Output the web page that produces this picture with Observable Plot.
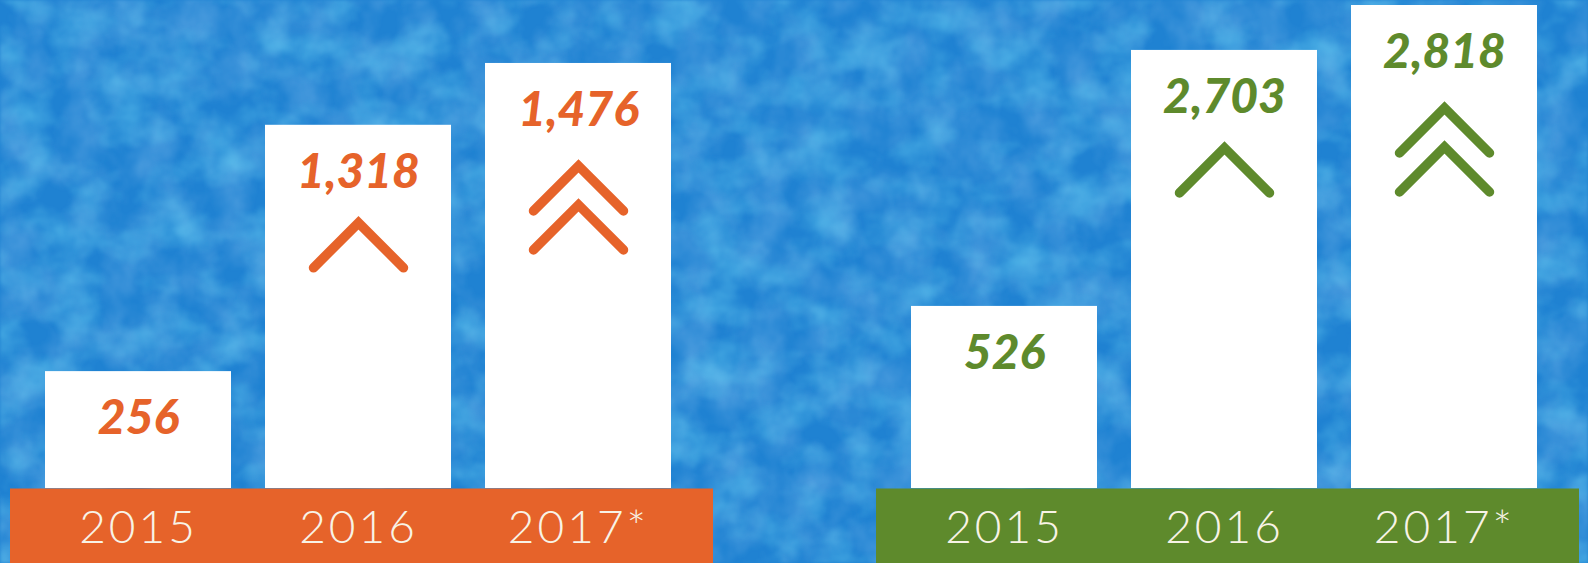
<!DOCTYPE html>
<html>
<head>
<meta charset="utf-8">
<script src="https://cdn.jsdelivr.net/npm/d3@7"></script>
<script src="https://cdn.jsdelivr.net/npm/@observablehq/plot@0.6"></script>
<style>
  html, body { margin: 0; padding: 0; background: #1f82d2; }
  #wrap { position: relative; width: 1588px; height: 563px; overflow: hidden; }
  #bg { position: absolute; left: 0; top: 0; }
  #chart { position: absolute; left: 0; top: 0; }
</style>
</head>
<body>
<div id="wrap">
  <svg id="bg" width="1588" height="563">
    <filter id="light" x="0" y="0" width="100%" height="100%">
      <feTurbulence type="fractalNoise" baseFrequency="0.02 0.028" numOctaves="4" seed="7"/>
      <feColorMatrix type="matrix" values="0 0 0 0 0.15  0 0 0 0 0.64  0 0 0 0 0.90  0 0 0 1.1 -0.45"/>
      <feGaussianBlur stdDeviation="1.5"/>
    </filter>
    <filter id="dark" x="0" y="0" width="100%" height="100%">
      <feTurbulence type="fractalNoise" baseFrequency="0.028 0.022" numOctaves="4" seed="21"/>
      <feColorMatrix type="matrix" values="0 0 0 0 0.12  0 0 0 0 0.40  0 0 0 0 0.78  0 0 0 1.2 -0.42"/>
      <feGaussianBlur stdDeviation="1.5"/>
    </filter>
    <rect width="1588" height="563" fill="#1f82d2"/>
    <rect width="1588" height="563" filter="url(#dark)"/>
    <rect width="1588" height="563" filter="url(#light)"/>
  </svg>
  <div id="chart"></div>
</div>
<script>
// ---- data ----
const groups = ["left", "right"];
const years = ["2015", "2016", "2017*"];
const leftValues = [256, 1318, 1476];
const rightValues = [526, 2703, 2818];
// drawn bar heights (infographic is not to scale), % of tallest bar
const leftLevels = [24.2, 75.2, 88.0];
const rightLevels = [37.7, 90.7, 100];
// number of "up" chevrons drawn in each bar
const arrowCounts = [0, 1, 2];
const groupColors = ["#e6632a", "#5e8a2c"];

const rows = [];
years.forEach((y, i) => rows.push({group: "left", year: y, value: leftValues[i], level: leftLevels[i], arrows: arrowCounts[i]}));
years.forEach((y, i) => rows.push({group: "right", year: y, value: rightValues[i], level: rightLevels[i], arrows: arrowCounts[i]}));
const bands = groups.map(g => ({group: g}));

const chevron = {
  draw(context, size) {
    const r = Math.sqrt(size / Math.PI);
    context.moveTo(-r, r / 2);
    context.lineTo(0, -r / 2);
    context.lineTo(r, r / 2);
  }
};

const fmt = d3.format(",");
const chevronStyle = {fx: "group", x: "year", y: "level", symbol: chevron, r: 45, stroke: "group", fill: "none", strokeWidth: 9.5, strokeLinecap: "round", strokeLinejoin: "miter"};

const chart = Plot.plot({
  width: 1588,
  height: 563,
  marginTop: 5,
  marginBottom: 75,
  marginLeft: 10,
  marginRight: 8,
  fx: {domain: groups, axis: null, paddingInner: 0.188, paddingOuter: 0},
  x: {domain: years, axis: null, paddingInner: 0.155, paddingOuter: 0.17, align: 0.46},
  y: {domain: [0, 100], axis: null},
  color: {domain: groups, range: groupColors},
  style: {background: "transparent", overflow: "visible"},
  marks: [
    Plot.ruleY(bands, {fx: "group", y: 0, stroke: "group", strokeWidth: 75, dy: 37.5}),
    Plot.barY(rows, {fx: "group", x: "year", y: "level", fill: "white"}),
    Plot.text(rows, {fx: "group", x: "year", frameAnchor: "bottom", dy: 54, text: "year", fill: "#f8f3e6", fontSize: 46, fontWeight: 300, fontFamily: "Lato"}),
    Plot.text(rows, {fx: "group", x: "year", y: "level", dy: 47, text: d => fmt(d.value), fill: "group", fontSize: 48, fontWeight: 900, fontStyle: "italic", fontFamily: "Lato"}),
    Plot.dot(rows.filter(d => d.arrows === 1), {...chevronStyle, dy: 120}),
    Plot.dot(rows.filter(d => d.arrows === 2), {...chevronStyle, dy: 125}),
    Plot.dot(rows.filter(d => d.arrows === 2), {...chevronStyle, dy: 164})
  ]
});
// year labels are set slightly tracked out, as in the original
d3.select(chart).selectAll('g[aria-label="text"]').filter((d, i) => i === 0)
  .attr("letter-spacing", 3);
document.getElementById("chart").appendChild(chart);
</script>
</body>
</html>
